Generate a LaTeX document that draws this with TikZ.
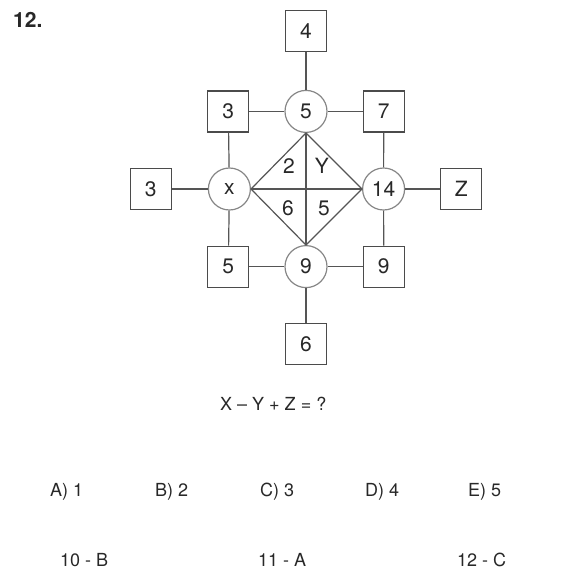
\documentclass[tikz,border=0pt]{standalone}
\usepackage{fontspec}
\setmainfont{TeX Gyre Heros}
\usetikzlibrary{positioning}
\definecolor{inkgray}{RGB}{40, 40, 40}
\definecolor{boxgray}{RGB}{75, 75, 75}
\definecolor{ringgray}{RGB}{135, 135, 135}
\definecolor{linegray}{RGB}{85, 85, 85}
\tikzset{
  numbox/.style={rectangle, draw=boxgray, line width=1.2pt, fill=white,
              minimum width=41pt, minimum height=41pt, inner sep=0pt,
              font=\fontsize{21}{25}\selectfont, text=inkgray},
  ring/.style={circle, draw=ringgray, line width=1.2pt, fill=white,
              minimum size=42pt, inner sep=0pt,
              font=\fontsize{21}{25}\selectfont, text=inkgray},
  cell/.style={anchor=base, inner sep=0pt,
              font=\fontsize{21}{25}\selectfont, text=inkgray},
  plain/.style={anchor=base west, inner sep=0pt,
              font=\fontsize{18}{22}\selectfont, text=inkgray},
  link/.style={line width=1.2pt, color=linegray},
}

\begin{document}
\begin{tikzpicture}[x=1pt, y=-1pt, node distance=35pt]
  \useasboundingbox (0,0) rectangle (584,579);

  \node[anchor=base west, inner sep=0pt, text=inkgray, font=\bfseries\fontsize{21}{25}\selectfont] (qnum) at (13,27) {12.};

  % circles round the middle
  \coordinate (mid) at (306,189);
  \node[ring, above=56pt of mid] (c5) {5};
  \node[ring, left=55pt of mid] (cx) {x};
  \node[ring, right=56pt of mid] (c14) {14};
  \node[ring, below=56pt of mid] (c9) {9};

  % boxes
  \node[numbox, above=38pt of c5] (b4) {4};
  \node[numbox, left=of c5] (btl) {3};
  \node[numbox, right=of c5] (btr) {7};
  \node[numbox, left=36pt of cx] (b3) {3};
  \node[numbox, right=of c14] (bz) {Z};
  \node[numbox, left=of c9] (bbl) {5};
  \node[numbox, right=of c9] (bbr) {9};
  \node[numbox, below=of c9] (b6) {6};

  % links
  \draw[link] (b4) -- (c5);
  \draw[link] (btl) -- (c5);
  \draw[link] (btr) -- (c5);
  \draw[link] (btl) -- (cx);
  \draw[link] (btr) -- (c14);
  \draw[link] (b3) -- (cx);
  \draw[link] (bz) -- (c14);
  \draw[link] (bbl) -- (cx);
  \draw[link] (bbr) -- (c14);
  \draw[link] (bbl) -- (c9);
  \draw[link] (bbr) -- (c9);
  \draw[link] (b6) -- (c9);

  % diamond
  \draw[link] (c5.south) -- (cx.east) -- (c9.north) -- (c14.west) -- cycle;
  \draw[link] (c5.south) -- (c9.north);
  \draw[link] (cx.east) -- (c14.west);
  \node[cell] (q2) at (289,173) {2};
  \node[cell] (qy) at (322,173) {Y};
  \node[cell] (q6) at (288,215) {6};
  \node[cell] (q5) at (324,215) {5};

  % question and choices
  \node[plain] (eq) at (220,410) {X – Y + Z = ?};
  \node[plain] (ca) at (50,496) {A) 1};
  \node[plain] (cb) at (155,496) {B) 2};
  \node[plain] (cc) at (260,496) {C) 3};
  \node[plain] (cd) at (365,496) {D) 4};
  \node[plain] (ce) at (468,496) {E) 5};

  \node[plain] (k10) at (60,566) {10 - B};
  \node[plain] (k11) at (258,566) {11 - A};
  \node[plain] (k12) at (457,566) {12 - C};
\end{tikzpicture}
\end{document}
